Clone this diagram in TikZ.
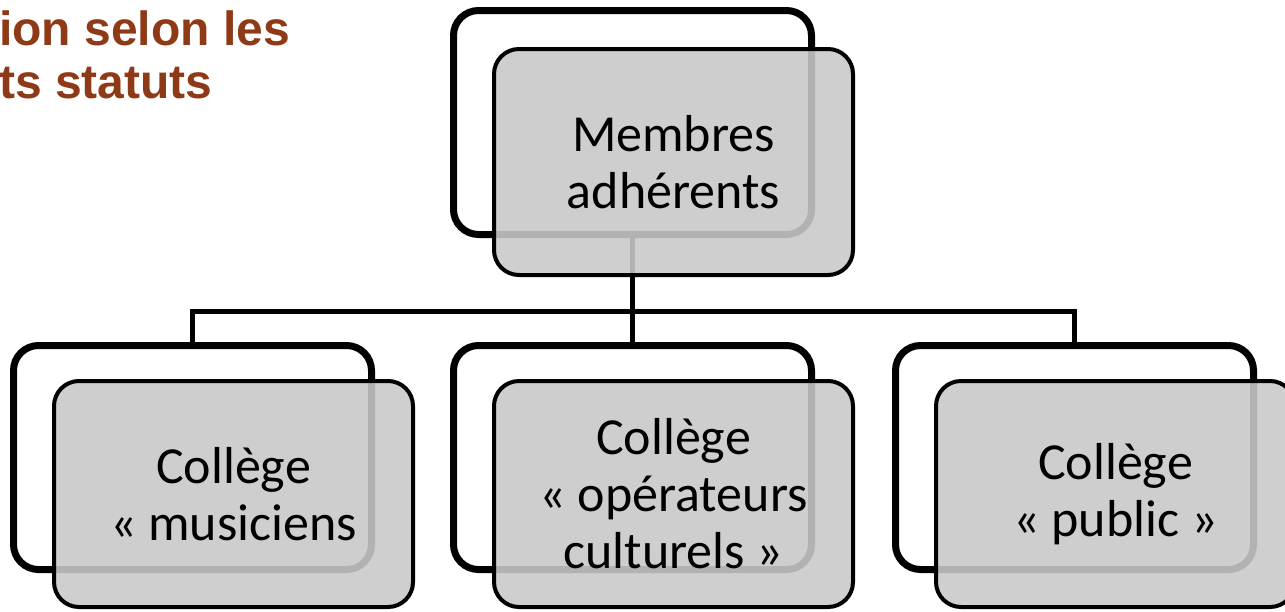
\documentclass[tikz,border=0pt]{standalone}
\usepackage{fontspec}
\setmainfont{Carlito}
\newfontfamily\titlefont{Liberation Sans}
\usetikzlibrary{positioning, shadows}
\definecolor{boxgray}{gray}{0.79}
\definecolor{titlebrown}{RGB}{142,58,22}
\tikzset{
    backbox/.style={ % hintere Box, weiss
        draw,
        line width=7pt,
        fill=white,
        rounded corners=25pt,
        minimum width=358pt, minimum height=224pt,
        inner sep=0pt,
        drop shadow={shadow xshift=-1.5pt, shadow yshift=-2.5pt, opacity=.2}
    },
    frontbox/.style={ % vordere Box, grau und durchscheinend
        draw,
        line width=4pt,
        fill=boxgray, fill opacity=.89, text opacity=1,
        rounded corners=25pt,
        minimum width=359pt, minimum height=226pt,
        inner sep=0pt,
        align=center,
        font=\fontsize{52}{57}\selectfont
    },
    link/.style={draw, line width=5pt},
    titel/.style={
        font=\titlefont\bfseries\fontsize{48}{53}\selectfont,
        text=titlebrown,
        align=left,
        inner sep=0pt
    }
}
\begin{document}
\begin{tikzpicture}[x=1pt, y=-1pt, node distance=75pt]
        \useasboundingbox (0,0) rectangle (1285,611);
        % obere zeile
        \node[backbox]                      (mem)   at (632.5,122.5) {};
        % untere zeile
        \node[backbox]                      (ope)   at (632.5,457.5) {};
        \node[backbox, left=of ope]         (mus)   {};
        \node[backbox, right=77pt of ope]   (pub)   {};

        \coordinate (bus) at (632.5,311);
        \draw[link] (mem.south) -- (bus);
        \draw[link] (mus.north) |- (bus) -| (pub.north);
        \draw[link] (bus) -- (ope.north);

        % graue boxen mit text
        \node[frontbox, xshift=41pt, yshift=-39.5pt] (memf) at (mem) {Membres\\adhérents};
        \node[frontbox, xshift=41pt, yshift=-36.5pt] (musf) at (mus) {Collège\\« musiciens};
        \node[frontbox, xshift=41pt, yshift=-36.5pt] (opef) at (ope) {Collège\\« opérateurs\\culturels »};
        \node[frontbox, xshift=41pt, yshift=-36.5pt] (pubf) at (pub) {Collège\\« public »};

        \node[titel, anchor=north west] (tit) at (-1,11) {ion selon les\\ts statuts};
\end{tikzpicture}
\end{document}
